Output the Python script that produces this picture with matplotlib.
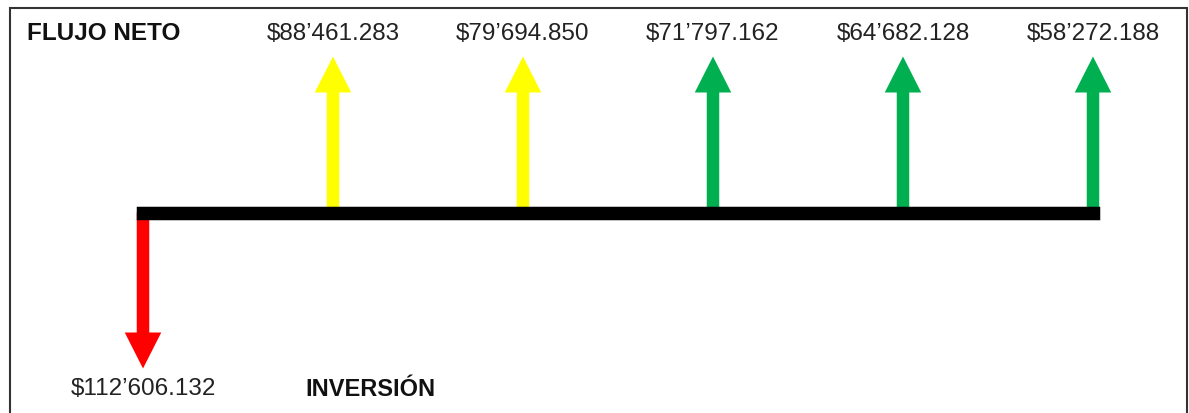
import matplotlib.pyplot as plt
from matplotlib.patches import Rectangle

plt.rcParams['font.family'] = ['Liberation Sans', 'DejaVu Sans']

# Cash flow data
periods = [0, 1, 2, 3, 4, 5]
labels = ["$112’606.132", "$88’461.283", "$79’694.850",
          "$71’797.162", "$64’682.128", "$58’272.188"]
directions = [-1, 1, 1, 1, 1, 1]
colors = ['#FF0000', '#FFFF00', '#FFFF00', '#00B050', '#00B050', '#00B050']

fig = plt.figure(figsize=(11.89, 4.13), dpi=100)
ax = fig.add_axes([0, 0, 1, 1])
ax.set_xlim(-143 / 190, 5 + 96 / 190)
ax.set_ylim(-(413 - 212.5) / 156, 212.5 / 156)
ax.axis('off')

# Arrows (all same length)
for p, d, c in zip(periods, directions, colors):
    ax.arrow(p, 0, 0, d, width=12.5 / 190, head_width=36.5 / 190,
             head_length=36 / 156, length_includes_head=True,
             color=c, linewidth=0, zorder=2)

# Time line
ax.plot([periods[0], periods[-1]], [0, 0], color='black', linewidth=13.5 * 0.72,
        solid_capstyle='projecting', zorder=3)

# Value labels
for p, d, lab in zip(periods, directions, labels):
    y = 1.147 if d > 0 else -1.131
    ax.text(p, y, lab, ha='center', va='center', fontsize=17.5, color='#222222')

fig.text(27 / 1189, 1 - 33.5 / 413, 'FLUJO NETO', ha='left', va='center',
         fontsize=17.5, fontweight='bold', color='#111111')
fig.text(305 / 1189, 1 - 390 / 413, 'INVERSIÓN', ha='left', va='center',
         fontsize=17, fontweight='bold', color='#111111')

# Frame around the picture (open at the bottom)
fig.patches.append(Rectangle((10 / 1189, -0.05), 1177 / 1189, 1.05 - 8 / 413,
                             transform=fig.transFigure, fill=False,
                             edgecolor='#333333', linewidth=1.5))

fig.savefig('out.png', dpi=100)
